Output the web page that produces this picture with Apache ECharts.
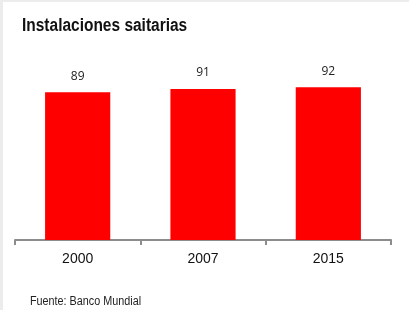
<!DOCTYPE html>
<html>
<head>
<meta charset="utf-8">
<script src="https://cdn.jsdelivr.net/npm/echarts@6/dist/echarts.min.js"></script>
<style>
  html, body { margin: 0; padding: 0; background: #fff; }
  #chart { width: 409px; height: 310px; }
</style>
</head>
<body>
<div id="chart"></div>
<script>
const years = ["2000", "2007", "2015"];
const values = [89, 91, 92];

const chart = echarts.init(document.getElementById("chart"));

chart.setOption({
    animation: false,
    graphic: [
        { type: "rect", left: 0, top: 0, shape: { width: 409, height: 2 }, style: { fill: "#ececec" } },
        { type: "rect", left: 0, top: 0, shape: { width: 3, height: 310 }, style: { fill: "#ececec" } },
        {
            type: "text", x: 22, y: 17, scaleX: 0.86,
            style: { text: "Instalaciones saitarias", font: "bold 18px 'Liberation Sans', Arial", fill: "#111" }
        },
        {
            type: "text", x: 30, y: 296, scaleX: 0.9,
            style: { text: "Fuente: Banco Mundial", font: "12px 'Liberation Sans', Arial", fill: "#222" }
        }
    ],
    grid: { left: 15, right: 18, top: 74, bottom: 70 },
    xAxis: {
        type: "category",
        data: years,
        axisLine: { lineStyle: { color: "#8c8c8c", width: 2 } },
        axisTick: { show: true, alignWithLabel: false, length: 5, lineStyle: { color: "#8c8c8c", width: 2 } },
        axisLabel: { color: "#111", fontSize: 14, fontFamily: "'Liberation Sans', Arial", margin: 12 }
    },
    yAxis: {
        type: "value",
        min: 0,
        max: 100,
        show: false,
        splitLine: { show: false }
    },
    series: [{
        type: "bar",
        data: values,
        barWidth: "52%",
        itemStyle: { color: "#ff0000" },
        label: {
            show: true,
            position: "top",
            distance: 10,
            color: "#222",
            fontSize: 12,
            fontFamily: "'Open Sans', 'Noto Sans', sans-serif"
        }
    }]
});
</script>
</body>
</html>
